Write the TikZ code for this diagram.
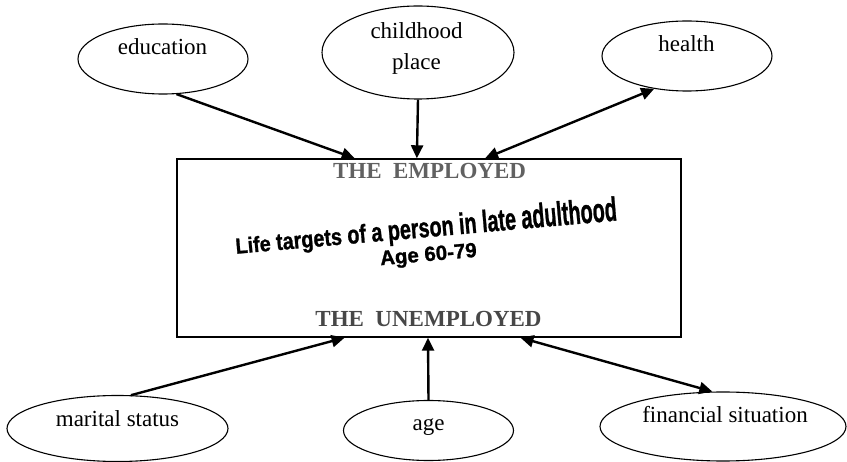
\documentclass[tikz,border=0pt]{standalone}
\usepackage{fontspec}
\usepackage{graphicx}
\setmainfont{Liberation Serif}
\newfontfamily\wordartfont[FakeBold=1.2]{Liberation Sans Bold}
\newcommand\wartword[2]{\scalebox{1}[#1]{#2}}
\usetikzlibrary{arrows.meta,calc,shapes.geometric}
\tikzset{
  oval/.style={ellipse, draw, line width=1.1pt, inner sep=0pt},
  lbl/.style={anchor=base, inner sep=0pt, font=\fontsize{23}{27}\selectfont},
  conn/.style={line width=2.4pt, -{Triangle[length=13pt,width=12pt]}},
  bconn/.style={line width=2.4pt, {Triangle[length=13pt,width=12pt]}-{Triangle[length=13pt,width=12pt]}},
  mainbox/.style={draw, line width=1.4pt, minimum width=504pt, minimum height=178pt, inner sep=0pt},
  state/.style={anchor=base, inner sep=0pt, font=\fontsize{23}{27}\selectfont\bfseries}
}
\begin{document}
\begin{tikzpicture}[x=1pt,y=-1pt]
\useasboundingbox (0,0) rectangle (847,462);
% central box
\node[mainbox] (box) at (429,248) {};
\node[state, text=black!62] (emp) at (429.5,179) {THE~~EMPLOYED};
\node[state, text=black!72] (unemp) at (428.5,327) {THE~~UNEMPLOYED};
\node[anchor=base, inner sep=0pt, rotate=5, align=center,
      font=\wordartfont\fontsize{19.8}{25}\selectfont] (life) at (429,261)
  {\wartword{1.1}{Life} \wartword{1.2}{targets} \wartword{1.3}{of} \wartword{1.35}{a} \wartword{1.4}{person} \wartword{1.5}{in} \wartword{1.55}{late} \wartword{1.7}{adulthood}\\[-1pt]
   \fontsize{20.5}{24}\selectfont Age 60-79};
% ellipses
\node[oval, minimum width=170pt, minimum height=70pt] (edu) at (163,59) {};
\node[lbl] at (162.5,55) {education};
\node[oval, minimum width=192pt, minimum height=93pt] (child) at (418,52.5) {};
\node[lbl] at (416.5,39) {childhood};
\node[lbl] at (416.5,70) {place};
\node[oval, minimum width=170pt, minimum height=70pt] (health) at (687,56) {};
\node[lbl] at (686.5,52) {health};
\node[oval, minimum width=221pt, minimum height=66pt] (mar) at (117.5,428.5) {};
\node[lbl] at (117.5,427) {marital status};
\node[oval, minimum width=170pt, minimum height=60pt] (age) at (428.5,430.5) {};
\node[lbl] at (428.5,431) {age};
\node[oval, minimum width=246pt, minimum height=69pt] (fin) at (723,426.5) {};
\node[lbl] at (725,422.5) {financial situation};
% connectors
\draw[conn] (edu.-69) -- ($(box.north west)!0.353!(box.north east)$);
\draw[conn] (child.south) -- ($(box.north west)!0.476!(box.north east)$);
\draw[bconn] ($(box.north west)!0.611!(box.north east)$) -- (health.-135);
\draw[conn] (mar.68) -- ($(box.south west)!0.333!(box.south east)$);
\draw[conn] (age.north) -- ($(box.south west)!0.498!(box.south east)$);
\draw[bconn] ($(box.south west)!0.681!(box.south east)$) -- (fin.107);
\end{tikzpicture}
\end{document}
